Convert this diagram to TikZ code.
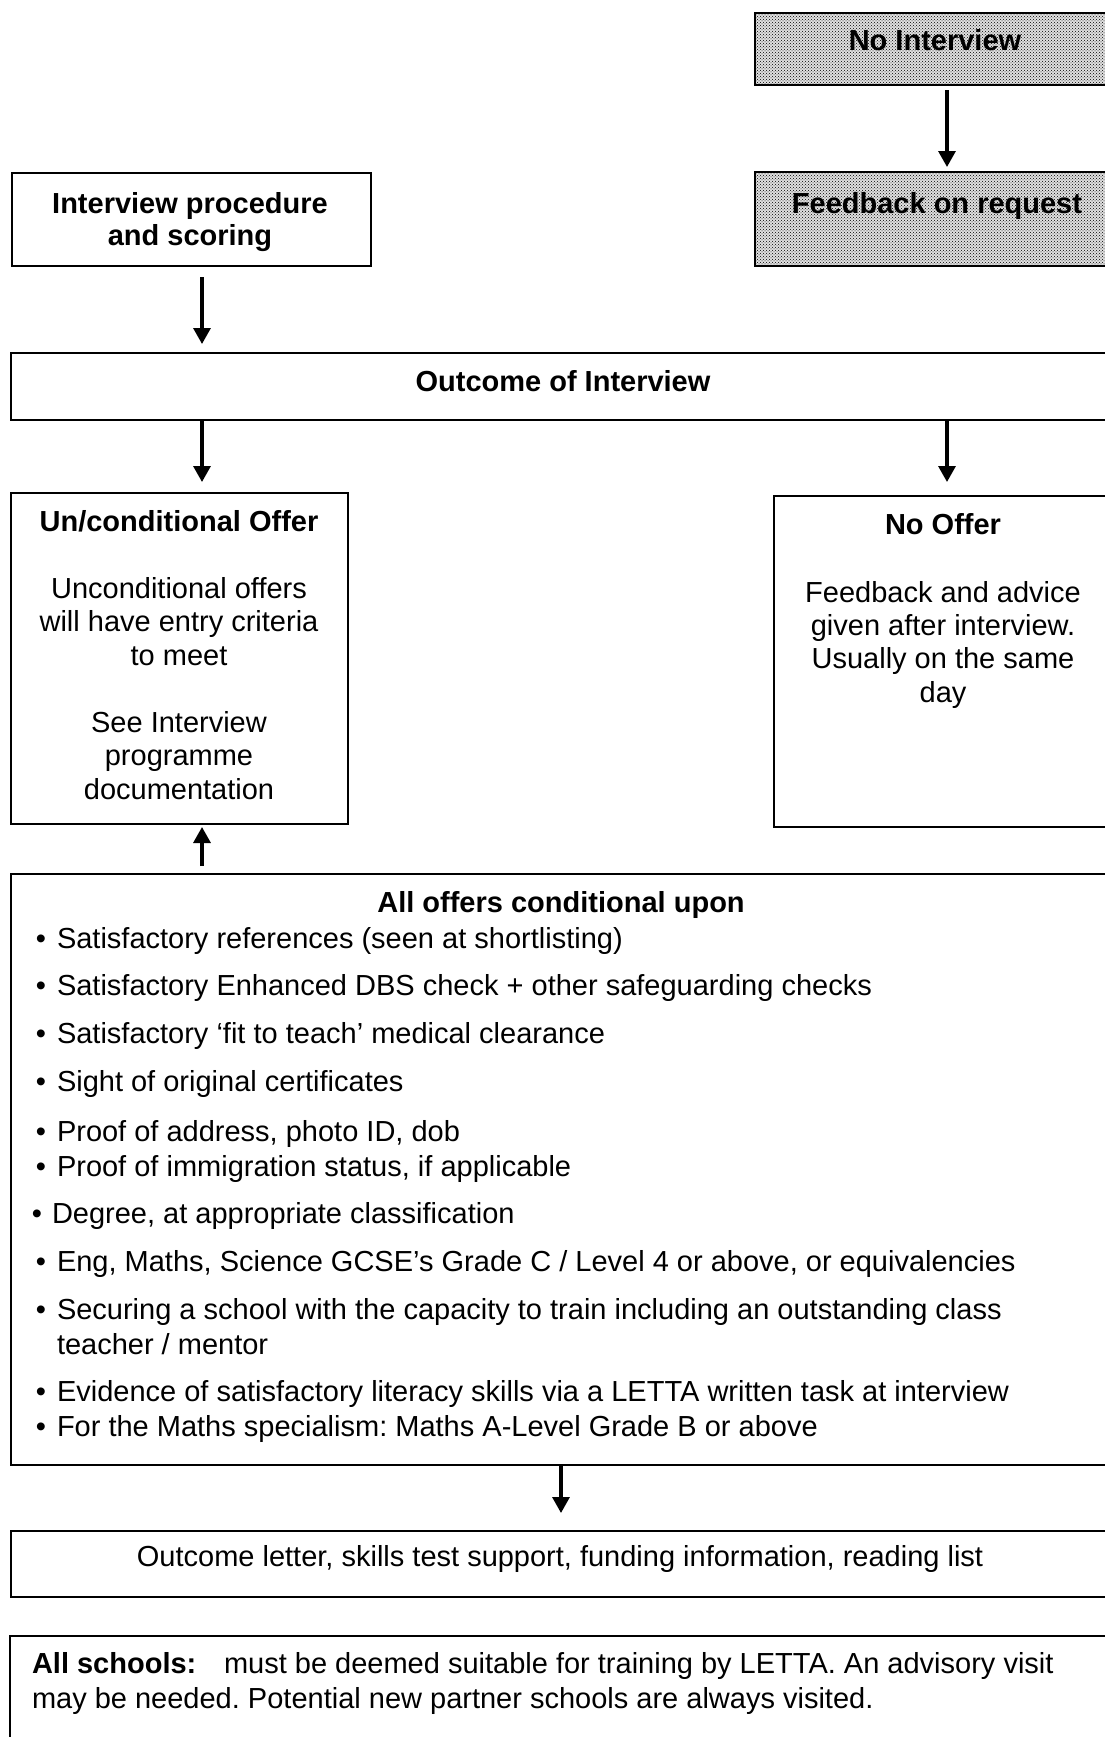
\documentclass[tikz,border=0pt]{standalone}
\usepackage{fontspec}
\setmainfont{Liberation Sans}
\usetikzlibrary{arrows.meta,patterns}
\frenchspacing
\newcommand\fsz{\fontsize{29}{33.5}\selectfont}
\tikzset{
  box/.style={draw=black, line width=1.6pt, inner sep=0pt, outer sep=0pt, anchor=north west},
  shadedbox/.style={box, preaction={fill=black!12}, pattern=crosshatch dots, pattern color=black},
  arr/.style={line width=3.2pt, -{Triangle[width=17pt,length=16pt]}},
  txt/.style={anchor=base, inner sep=0pt, outer sep=0pt, font=\fsz},
  btxt/.style={txt, font=\fsz\bfseries},
  ltxt/.style={txt, anchor=base west},
}
\begin{document}
\begin{tikzpicture}[x=1pt, y=-1pt]
\useasboundingbox (0,0) rectangle (1105,1737);
\clip (0,0) rectangle (1105,1737);
\fill[white] (0,0) rectangle (1105,1737);

% boxes
\node[shadedbox, minimum width=360pt, minimum height=72pt] (noint) at (755,13) {};
\node[shadedbox, minimum width=360pt, minimum height=94pt] (fbreq) at (755,172) {};
\node[box, minimum width=359pt, minimum height=93pt] (ip) at (12,173) {};
\node[box, minimum width=1104pt, minimum height=67pt] (outc) at (11,353) {};
\node[box, minimum width=337pt, minimum height=331pt] (uncond) at (11,493) {};
\node[box, minimum width=341pt, minimum height=331pt] (nooffer) at (774,496) {};
\node[box, minimum width=1104pt, minimum height=591pt] (conds) at (11,874) {};
\node[box, minimum width=1104pt, minimum height=66pt] (letter) at (11,1531) {};
\node[box, minimum width=1105pt, minimum height=130pt] (schools) at (10,1636) {};

% columns for connectors
\coordinate (cL) at (202,0);
\coordinate (cR) at (947,0);
\coordinate (cM) at (561,0);

% connectors
\draw[arr, shorten <=5pt, shorten >=5pt] (noint.south -| cR) -- (fbreq.north -| cR);
\draw[arr, shorten <=11pt, shorten >=9pt] (ip.south -| cL) -- (outc.north -| cL);
\draw[arr, shorten <=1pt, shorten >=11pt] (outc.south -| cL) -- (uncond.north -| cL);
\draw[arr, shorten <=1pt, shorten >=14pt] (outc.south -| cR) -- (nooffer.north -| cR);
\draw[arr, shorten <=8pt, shorten >=3pt] (conds.north -| cL) -- (uncond.south -| cL);
\draw[arr, shorten <=1pt, shorten >=18pt] (conds.south -| cM) -- (letter.north -| cM);

% texts
\node[btxt] (tnoint) at (935,51) {No Interview};
\node[btxt] (tfbreq) at (937,213) {Feedback on request};
\node[btxt] (tip1) at (190,213) {Interview procedure};
\node[btxt] (tip2) at (190,245) {and scoring};
\node[btxt] (toutc) at (563,391) {Outcome of Interview};

\node[btxt] (tu1) at (179,531) {Un/conditional Offer};
\node[txt] (tu2) at (179,598) {Unconditional offers};
\node[txt] (tu3) at (179,631) {will have entry criteria};
\node[txt] (tu4) at (179,665) {to meet};
\node[txt] (tu5) at (179,732) {See Interview};
\node[txt] (tu6) at (179,765) {programme};
\node[txt] (tu7) at (179,799) {documentation};

\node[btxt] (tn1) at (943,534) {No Offer};
\node[txt] (tn2) at (943,602) {Feedback and advice};
\node[txt] (tn3) at (943,635) {given after interview.};
\node[txt] (tn4) at (943,668) {Usually on the same};
\node[txt] (tn5) at (943,702) {day};

\node[btxt] (tc0) at (561,912) {All offers conditional upon};
\foreach \xb/\xt/\yy/\tx [count=\i] in {
  41/57/948/{Satisfactory references (seen at shortlisting)},
  41/57/995/{Satisfactory Enhanced DBS check + other safeguarding checks},
  41/57/1043/{Satisfactory ‘fit to teach’ medical clearance},
  41/57/1091/{Sight of original certificates},
  41/57/1141/{Proof of address, photo ID, dob},
  41/57/1176/{Proof of immigration status, if applicable},
  37/52/1223/{Degree, at appropriate classification},
  41/57/1271/{Eng, Maths, Science GCSE’s Grade C / Level 4 or above, or equivalencies},
  41/57/1319/{Securing a school with the capacity to train including an outstanding class},
  41/57/1401/{Evidence of satisfactory literacy skills via a LETTA written task at interview},
  41/57/1436/{For the Maths specialism: Maths A-Level Grade B or above}} {
  \node[txt] (cb\i) at (\xb,\yy) {•};
  \node[ltxt] (ct\i) at (\xt,\yy) {\tx};
}
\node[ltxt] (ct9b) at (57,1354) {teacher / mentor};

\node[txt] (tletter) at (560,1566) {Outcome letter, skills test support, funding information, reading list};

\node[ltxt, font=\fsz\bfseries] (ts1) at (32,1673) {All schools:};
\node[ltxt] (ts2) at (224,1673) {must be deemed suitable for training by LETTA. An advisory visit};
\node[ltxt] (ts3) at (32,1708) {may be needed. Potential new partner schools are always visited.};
\end{tikzpicture}
\end{document}
